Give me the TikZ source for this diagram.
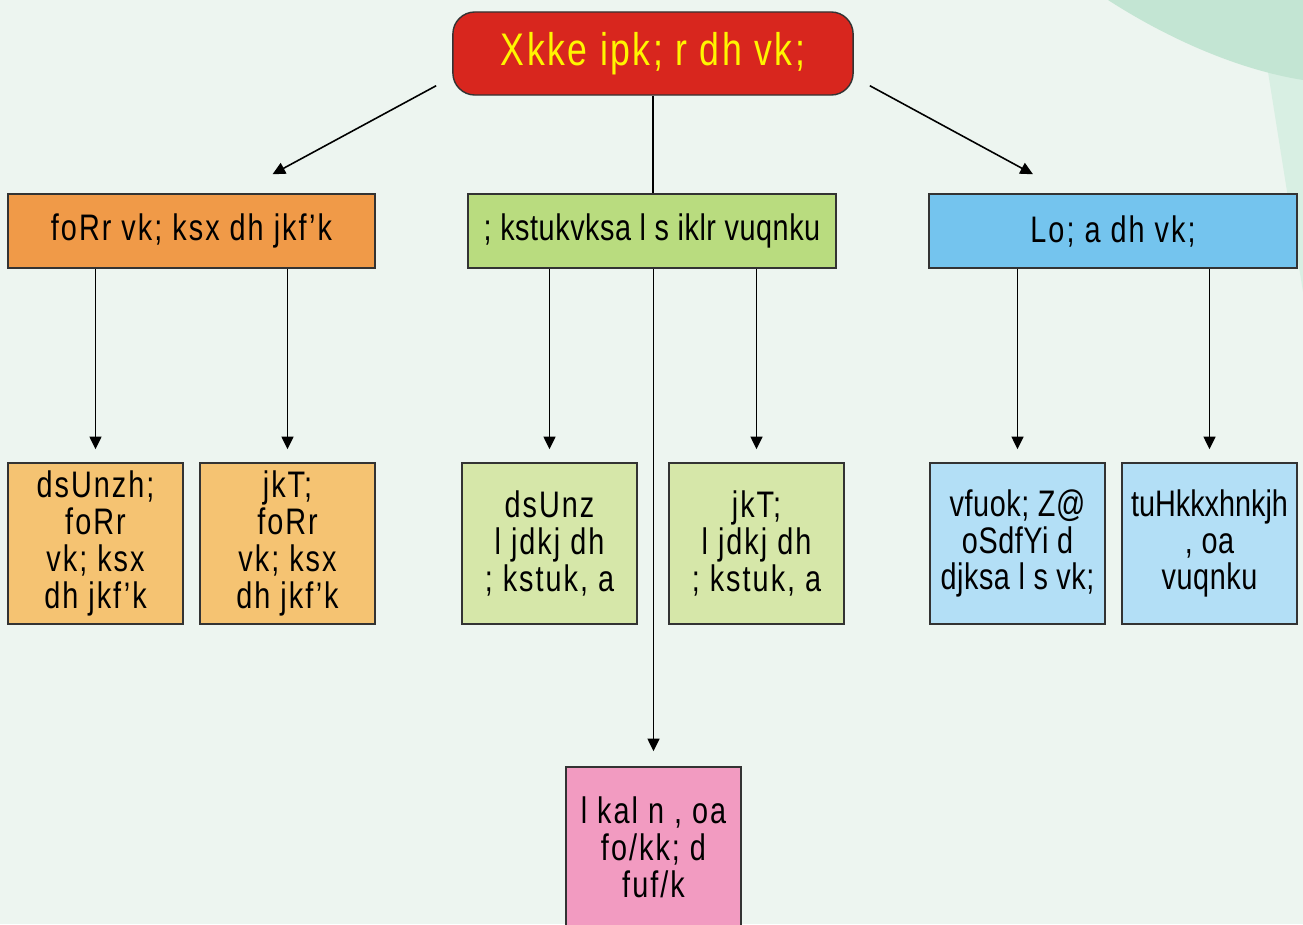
\documentclass[tikz,border=0pt]{standalone}
\usepackage{fontspec}
\setmainfont{Liberation Sans}[FakeStretch=0.78, LetterSpace=5.5]
\usepackage{xcolor}
\usetikzlibrary{arrows.meta}
\usetikzlibrary{positioning}
\usetikzlibrary{calc}

\definecolor{pagebg}{HTML}{EDF5F0}
\definecolor{mintdark}{HTML}{C3E5D3}
\definecolor{mintlight}{HTML}{D8EFE3}
\definecolor{gramred}{HTML}{D8261E}
\definecolor{gramtext}{HTML}{FFF500}
\definecolor{finhead}{HTML}{F09A48}
\definecolor{finleaf}{HTML}{F5C372}
\definecolor{yojhead}{HTML}{B9DC7F}
\definecolor{yojleaf}{HTML}{D6E7A9}
\definecolor{swahead}{HTML}{74C4EE}
\definecolor{swaleaf}{HTML}{B3DFF6}
\definecolor{sanpink}{HTML}{F29BC1}

\begin{document}
\begin{tikzpicture}[->, >={Triangle[length=3.6pt,width=3.4pt]}, x=0.01cm, y=-0.01cm, line width=0.45pt]
\tikzstyle{box} = [draw=black!80, line width=0.4pt, align=center, inner sep=2pt, text=black, font=\fontsize{10.5}{10.5}\selectfont]
\tikzstyle{head box} = [box, minimum width=3.67cm, minimum height=0.74cm]
\tikzstyle{leaf box} = [box, minimum width=1.75cm, minimum height=1.61cm]
\tikzstyle{tight} = [font=\fontsize{10.5}{10.5}\selectfont\addfontfeature{LetterSpace=1.5}]

\useasboundingbox (0,0) rectangle (1303,924);
\begin{scope}[-]
\fill[pagebg] (0,0) rectangle (1303,924);
\fill[mintlight] (1268,72) -- (1303,80) -- (1303,292) -- cycle;
\fill[mintdark] (1108,0) .. controls (1170,40) and (1240,70) .. (1303,80) -- (1303,0) -- cycle;
\end{scope}

% top
\node[box, rounded corners=0.22cm, fill=gramred, text=gramtext, minimum width=4cm, minimum height=0.83cm, font=\fontsize{13}{13}\selectfont] (gram) at (653,53.5) {Xkke ipk; r dh vk;};

% second row
\node[head box, fill=finhead] (fin) at (191.5,231) {foRr vk; ksx dh jkf'k};
\node[head box, tight, fill=yojhead, minimum width=3.68cm] (yoj) at (652,231) {; kstukvksa l s iklr vuqnku};
\node[head box, fill=swahead, minimum width=3.68cm] (swa) at (1113,231) {Lo; a dh vk;};

% third row
\node[leaf box, fill=finleaf] (fin1) at (95.5,543.5) {dsUnzh;\\ foRr\\ vk; ksx\\ dh jkf'k};
\node[leaf box, fill=finleaf] (fin2) at (287.5,543.5) {jkT;\\ foRr\\ vk; ksx\\ dh jkf'k};
\node[leaf box, fill=yojleaf] (yoj1) at (549.5,543.5) {dsUnz\\ l jdkj dh\\ ; kstuk, a};
\node[leaf box, fill=yojleaf] (yoj2) at (756.5,543.5) {jkT;\\ l jdkj dh\\ ; kstuk, a};
\node[leaf box, tight, fill=swaleaf] (swa1) at (1017.5,543.5) {vfuok; Z@\\ oSdfYi d\\ djksa l s vk;};
\node[leaf box, tight, fill=swaleaf, inner sep=1pt] (swa2) at (1209.5,543.5) {\addfontfeature{LetterSpace=0}tuHkkxhnkjh\\ , oa\\ vuqnku};

% bottom
\node[leaf box, fill=sanpink] (san) at (653.5,847.5) {l kal n , oa\\ fo/kk; d\\ fuf/k};

\draw[-] (gram.south) -- (gram.south |- yoj.north);
\path ($(gram.south west)+(-16,-10)$) edge ($(fin.north)+(81,-19)$)
	($(gram.south east)+(16,-10)$) edge ($(swa.north)+(-80,-19)$)
	(fin.south -| fin1.north) edge[shorten >=0.13cm] (fin1.north)
	(fin.south -| fin2.north) edge[shorten >=0.13cm] (fin2.north)
	(yoj.south -| yoj1.north) edge[shorten >=0.13cm] (yoj1.north)
	(yoj.south -| yoj2.north) edge[shorten >=0.13cm] (yoj2.north)
	(yoj.south -| san.north) edge[shorten >=0.15cm] (san.north)
	(swa.south -| swa1.north) edge[shorten >=0.13cm] (swa1.north)
	(swa.south -| swa2.north) edge[shorten >=0.13cm] (swa2.north)
	;

\end{tikzpicture}
\end{document}
